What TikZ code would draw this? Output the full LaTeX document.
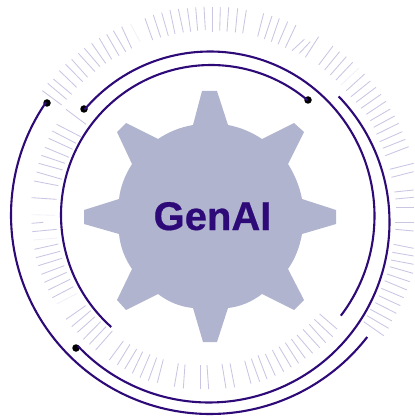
\documentclass[tikz,border=0pt]{standalone}
\usepackage{fontspec}
\setmainfont{Liberation Sans}
\newfontfamily\genfont[FakeBold=0.5]{Liberation Sans Bold}
\definecolor{ink}{HTML}{2E0A78}
\definecolor{gearc}{HTML}{B0B4CF}
\definecolor{tickc}{HTML}{C8C6E2}
\definecolor{tickf}{HTML}{F1F0F8}
\tikzset{ringarc/.style={draw=ink,line width=2.1pt},endpt/.style={circle,fill=black,inner sep=0pt,minimum size=7.5pt},
 tickline/.style={draw=tickc,line width=.85pt},faintline/.style={draw=tickf,line width=.85pt},
 zoomcrop/.style={x=.33333pt,y=-.33333pt}}
\begin{document}
\begin{tikzpicture}[x=1pt,y=-1pt]
\path[use as bounding box] (0,0) rectangle (414,419);
\clip (0,0) rectangle (414,419);
\begin{scope}[shift={(0pt,0pt)},zoomcrop]
\foreach \ax/\ay/\bx/\by in {95/593/170/598,102/543/175/557,110/516/186/538,116/490/188/510,124/466/195/490,135/442/207/472,146/415/218/448,157/393/228/430,170/373/242/410,198/328/258/373,127/272/185/315,143/250/200/298,160/237/215/283,178/212/230/262,197/193/248/245,215/178/263/232,235/160/285/215,253/145/300/200,275/130/317/190,298/115/335/178,320/103/357/167,340/92/377/155,365/80/395/145,435/55/458/120,460/45/482/112,485/38/505/108,510/30/525/102,535/27/550/97,562/25/572/95,587/22/593/92,612/20/616/90}
 \draw[tickline] (\ax,\ay) -- (\bx,\by);
\draw[faintline] (392,72) -- (420,125);
\end{scope}
\begin{scope}[shift={(207pt,0pt)},zoomcrop]
\foreach \ax/\ay/\bx/\by in {16/20/16/95,40/22/38/92,65/22/60/95,92/25/85/97,118/30/107/100,170/40/152/110,195/48/172/117,217/55/193/125,242/65/213/133,267/75/235/143,292/118/255/152,310/125/277/160,335/110/295/172,378/138/335/195,398/155/353/210,418/170/370/225,437/187/387/240,473/222/418/272,490/243/432/290,507/262/447/307,522/283/462/325,537/304/478/343,550/327/490/362,563/348/500/382,575/370/508/403,586/395/518/425,595/418/527/445,605/440/535/467,620/490/548/508,620/515/553/532,620/570/562/576,620/592/565/597,620/622/567/622}
 \draw[tickline] (\ax,\ay) -- (\bx,\by);
\draw[faintline] (455,205) -- (402,255);
\end{scope}
\begin{scope}[shift={(207pt,-210pt)},zoomcrop]
\foreach \ax/\ay/\bx/\by in {620/37/565/37,620/63/565/58,620/115/560/103,620/138/556/127,620/163/552/150,618/190/548/170,608/215/540/192,600/240/533/212,590/263/523/235,580/287/515/257,568/310/505/278,555/333/490/298,545/355/480/317,530/377/470/335,390/357/338/312,377/380/322/328,356/398/307/343,338/413/288/358,317/430/270/375,295/445/253/387,275/460/235/398,253/472/216/410,230/485/196/420,205/497/175/432,180/507/153/436,158/515/133/446,132/521/113/452,83/532/69/460,57/535/45/462,5/537/0/465}
 \draw[tickline] (\ax,\ay) -- (\bx,\by);
\end{scope}
\begin{scope}[shift={(0pt,-210pt)},zoomcrop]
\foreach \ax/\ay/\bx/\by in {600/537/600/465,550/535/555/463,523/530/535/460,472/518/490/448,445/512/470/443,420/503/450/433,397/490/428/425,374/477/410/417,352/465/390/403,328/450/370/393,287/420/337/363,268/403/318/350,250/388/302/335,232/367/285/320,215/350/272/302,198/328/257/287,157/263/220/230,145/240/210/208,133/217/200/187,124/193/193/167,115/167/186/145,108/143/180/124,103/118/175/102,97/65/170/58,95/40/130/37}
 \draw[tickline] (\ax,\ay) -- (\bx,\by);
\draw[faintline] (170,282) -- (232,250);
\draw[faintline] (95,14) -- (165,16);
\draw[faintline] (100,90) -- (172,84);
\end{scope}
\fill[gearc] (202,91) -- (217,91) -- (228,125) .. controls (240.2,127.3) and (251.5,132) .. (262,139) -- (294,123) -- (304,132) -- (288,164) .. controls (295,175.1) and (299.7,186.8) .. (302,199) -- (336,210) -- (336,224) -- (302,234) .. controls (299.7,247.2) and (295,258.9) .. (288,269) -- (304,300) -- (294,310) -- (262,294) .. controls (251.5,302) and (240.2,306.7) .. (228,308) -- (217,342) -- (203,342) -- (193,308) .. controls (179.8,306.7) and (168.5,302) .. (158,294) -- (126,310) -- (117,300) -- (132,269) .. controls (125,258.9) and (120.3,247.2) .. (119,234) -- (84,224) -- (84,210) -- (119,199) .. controls (120.3,186.8) and (125,175.1) .. (132,164) -- (117,132) -- (126,123) -- (158,139) .. controls (168.5,132) and (179.8,127.3) .. (193,125) -- cycle;
\node[text=ink,font=\genfont\fontsize{40}{40}\selectfont,inner sep=0pt,anchor=base] (t) at (212.5,230) {GenAI};
\node[endpt] (d1) at (47,103) {};
\node[endpt] (d2) at (84,109) {};
\node[endpt] (d3) at (308,100) {};
\node[endpt] (d4) at (76,348) {};
\draw[ringarc] plot[domain=37.8:214.5,samples=120] ({210+199*cos(\x)},{215+199*sin(\x)});
\draw[ringarc] plot[domain=-139.7:37.3,samples=120] ({210+164.5*cos(\x)},{216+164.5*sin(\x)});
\draw[ringarc] plot[domain=-44.1:136.6,samples=120] ({209+180.5*cos(\x)},{222+180.5*sin(\x)});
\draw[ringarc] plot[domain=-228.3:-49.9,samples=120] ({211+150*cos(\x)},{215+150*sin(\x)});
\end{tikzpicture}
\end{document}
